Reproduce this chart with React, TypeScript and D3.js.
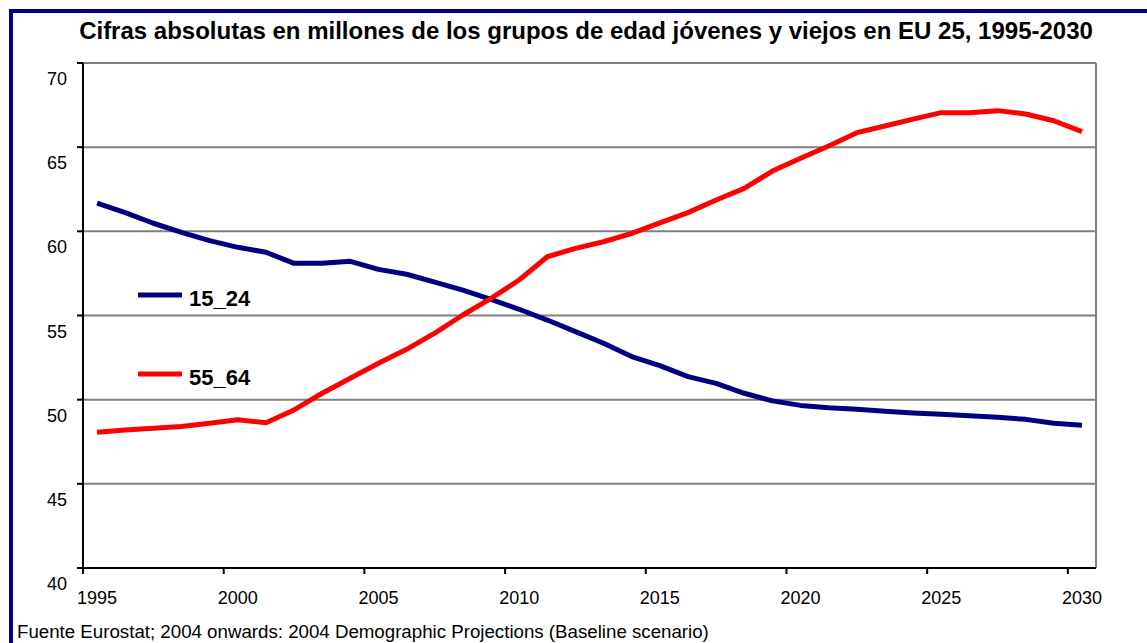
import React from "react";
import * as d3 from "d3";

const years: number[] = [
  1995, 1996, 1997, 1998, 1999, 2000, 2001, 2002, 2003, 2004, 2005, 2006,
  2007, 2008, 2009, 2010, 2011, 2012, 2013, 2014, 2015, 2016, 2017, 2018,
  2019, 2020, 2021, 2022, 2023, 2024, 2025, 2026, 2027, 2028, 2029, 2030,
];

const young15_24: number[] = [
  61.67, 61.11, 60.48, 59.94, 59.45, 59.05, 58.76, 58.1, 58.1, 58.22, 57.74,
  57.45, 56.98, 56.51, 55.96, 55.37, 54.73, 54.04, 53.35, 52.56, 52.02, 51.37,
  50.97, 50.38, 49.93, 49.66, 49.52, 49.43, 49.31, 49.21, 49.13, 49.05, 48.95,
  48.83, 48.6, 48.48,
];

const old55_64: number[] = [
  48.06, 48.2, 48.3, 48.4, 48.6, 48.81, 48.63, 49.39, 50.38, 51.27, 52.16,
  52.99, 53.95, 55.03, 56.02, 57.11, 58.49, 58.99, 59.38, 59.88, 60.5, 61.11,
  61.86, 62.55, 63.58, 64.34, 65.07, 65.86, 66.26, 66.67, 67.05, 67.05, 67.17,
  66.97, 66.57, 65.92,
];

const yTicks: number[] = [40, 45, 50, 55, 60, 65, 70];
const xLabelYears: number[] = [1995, 2000, 2005, 2010, 2015, 2020, 2025, 2030];

const seriesNames: string[] = ["15_24", "55_64"];
const seriesColors: string[] = ["#000080", "#FF0000"];

const title =
  "Cifras absolutas en millones de los grupos de edad jóvenes y viejos en EU 25, 1995-2030";
const footer =
  "Fuente Eurostat; 2004 onwards: 2004 Demographic Projections (Baseline scenario)";

const W = 1147;
const H = 643;
const FONT = "'Liberation Sans', Arial, Helvetica, sans-serif";

export default function App() {
  const left = 83;
  const right = 1096;
  const top = 63;
  const bottom = 568;

  const x = d3
    .scaleBand<number>()
    .domain(years)
    .range([left, right])
    .paddingInner(0)
    .paddingOuter(0);
  const bw = x.bandwidth();
  const cx = (yr: number) => (x(yr) as number) + bw / 2;

  const y = d3.scaleLinear().domain([40, 70]).range([bottom, top]);

  const line = d3
    .line<number>()
    .x((_, i) => cx(years[i]))
    .y((d) => y(d));

  const allSeries = [young15_24, old55_64];

  return (
    <svg
      width={W}
      height={H}
      style={{ position: "absolute", left: 0, top: 0, background: "#fff" }}
      fontFamily={FONT}
    >
      <rect x={0} y={0} width={W} height={H} fill="#fff" />
      {/* frame */}
      <rect
        x={11}
        y={11}
        width={1300}
        height={800}
        fill="none"
        stroke="#000080"
        strokeWidth={4}
      />
      {/* title */}
      <text
        x={586}
        y={39}
        textAnchor="middle"
        fontWeight="bold"
        fontSize={24}
        fill="#000"
      >
        {title}
      </text>

      {/* gridlines */}
      {yTicks.map((t) => (
        <line
          key={"g" + t}
          x1={left}
          x2={right}
          y1={y(t)}
          y2={y(t)}
          stroke="#808080"
          strokeWidth={2}
        />
      ))}
      {/* right border */}
      <line x1={right} x2={right} y1={top} y2={bottom} stroke="#808080" strokeWidth={2} />

      {/* y axis */}
      <line x1={left} x2={left} y1={top} y2={bottom + 1} stroke="#000" strokeWidth={2} />
      {yTicks.map((t) => (
        <g key={"yt" + t}>
          <line x1={left - 6} x2={left} y1={y(t)} y2={y(t)} stroke="#000" strokeWidth={2} />
          <text x={67} y={y(t) + 22} textAnchor="end" fontSize={18} fill="#000">
            {t}
          </text>
        </g>
      ))}

      {/* x axis */}
      <line x1={left} x2={right} y1={bottom} y2={bottom} stroke="#000" strokeWidth={2} />
      {xLabelYears.map((yr) => (
        <g key={"xt" + yr}>
          <line
            x1={x(yr) as number}
            x2={x(yr) as number}
            y1={bottom}
            y2={bottom + 6}
            stroke="#000"
            strokeWidth={2}
          />
          <text x={cx(yr)} y={604} textAnchor="middle" fontSize={18} fill="#000">
            {yr}
          </text>
        </g>
      ))}

      {/* series */}
      {allSeries.map((s, i) => (
        <path
          key={"s" + i}
          d={line(s) || ""}
          fill="none"
          stroke={seriesColors[i]}
          strokeWidth={5}
          strokeLinejoin="round"
        />
      ))}

      {/* legend */}
      {seriesNames.map((n, i) => {
        const ly = [295, 374][i];
        return (
          <g key={"l" + n}>
            <line x1={138} x2={182} y1={ly} y2={ly} stroke={seriesColors[i]} strokeWidth={5} />
            <text x={189} y={ly + 11} fontSize={22} fontWeight="bold" fill="#000">
              {n}
            </text>
          </g>
        );
      })}

      {/* footer */}
      <text x={17} y={638} fontSize={18.7} fill="#000">
        {footer}
      </text>
    </svg>
  );
}
